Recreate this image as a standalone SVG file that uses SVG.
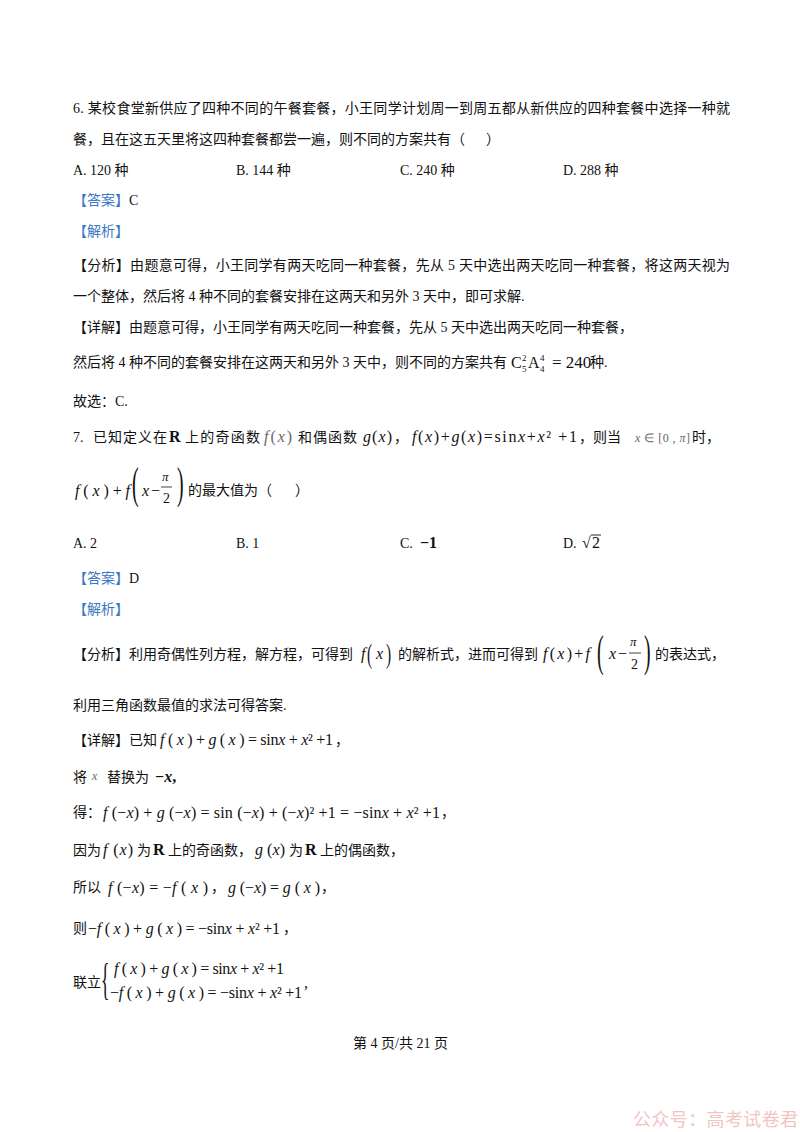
<svg xmlns="http://www.w3.org/2000/svg" width="800" height="1132" viewBox="0 0 800 1132">
<style>
text{font-family:"Liberation Serif","Noto Sans CJK SC",serif;font-size:14px;fill:#111}
.m{font-family:"Liberation Serif",serif;font-size:16px}
.i{font-style:italic}
.bl{fill:#3a78c2}
.gr{fill:#666}
.bd{font-weight:bold}
.bp{font-family:"Liberation Serif",serif;font-size:44px}
.wm{font-family:"Noto Sans CJK SC",sans-serif;font-size:18px;fill:#f2c4c4}
</style>
<rect width="800" height="1132" fill="#fff"/>

<g id="q6">
<text x="73" y="113" textLength="657" lengthAdjust="spacing">6. 某校食堂新供应了四种不同的午餐套餐，小王同学计划周一到周五都从新供应的四种套餐中选择一种就</text>
<text x="73" y="144">餐，且在这五天里将这四种套餐都尝一遍，则不同的方案共有（</text>
<text x="486" y="144">）</text>
<text x="73" y="175">A. 120 种</text>
<text x="236" y="175">B. 144 种</text>
<text x="400" y="175">C. 240 种</text>
<text x="563" y="175">D. 288 种</text>
<text x="73" y="205"><tspan class="bl">【答案】</tspan>C</text>
<text x="73" y="236" class="bl">【解析】</text>
<text x="73" y="270" textLength="657" lengthAdjust="spacing">【分析】由题意可得，小王同学有两天吃同一种套餐，先从 5 天中选出两天吃同一种套餐，将这两天视为</text>
<text x="73" y="301">一个整体，然后将 4 种不同的套餐安排在这两天和另外 3 天中，即可求解.</text>
<text x="73" y="332">【详解】由题意可得，小王同学有两天吃同一种套餐，先从 5 天中选出两天吃同一种套餐，</text>
<text x="73" y="367">然后将 4 种不同的套餐安排在这两天和另外 3 天中，则不同的方案共有</text>
<text class="m" x="511" y="368">C</text>
<text class="m" x="522" y="361" style="font-size:9px">2</text>
<text class="m" x="522" y="372" style="font-size:9px">5</text>
<text class="m" x="528" y="368">A</text>
<text class="m" x="540" y="361" style="font-size:9px">4</text>
<text class="m" x="540" y="372" style="font-size:9px">4</text>
<text class="m" x="552" y="368" style="font-size:17px">= 240</text>
<text x="590" y="367">种.</text>
<text x="73" y="406">故选：C.</text>
</g>

<g id="q7">
<text x="73" y="442">7.</text>
<text x="93" y="442" textLength="74" lengthAdjust="spacing">已知定义在</text>
<text class="m bd" x="169" y="442">R</text>
<text x="185" y="442" textLength="75" lengthAdjust="spacing">上的奇函数</text>
<text class="m gr" x="264" y="442" textLength="28" lengthAdjust="spacing"><tspan class="i">f</tspan>(<tspan class="i">x</tspan>)</text>
<text x="298" y="442" textLength="59" lengthAdjust="spacing">和偶函数</text>
<text class="m" x="363" y="442" textLength="29" lengthAdjust="spacing"><tspan class="i">g</tspan>(<tspan class="i">x</tspan>)</text>
<text x="394" y="442">，</text>
<text class="m" x="412" y="442" textLength="165" lengthAdjust="spacing"><tspan class="i">f</tspan>(<tspan class="i">x</tspan>)+<tspan class="i">g</tspan>(<tspan class="i">x</tspan>)=sin<tspan class="i">x</tspan>+<tspan class="i">x</tspan>² +1</text>
<text x="579" y="442">，则当</text>
<text class="m gr" x="635" y="442" style="font-size:12px" textLength="55" lengthAdjust="spacing"><tspan class="i">x</tspan> ∈ [0 , <tspan class="i">π</tspan>]</text>
<text x="692" y="442">时，</text>

<text class="m" x="75" y="496" textLength="55" lengthAdjust="spacing"><tspan class="i">f</tspan>(<tspan class="i">x</tspan>)+<tspan class="i">f</tspan></text>
<text class="bp" transform="translate(132,498) scale(0.45,1)">(</text>
<text class="m i" x="142" y="496">x</text>
<text class="m" x="151" y="496">−</text>
<text class="m i" x="162" y="481" style="font-size:13px">π</text>
<line x1="161" y1="487" x2="172" y2="487" stroke="#111" stroke-width="0.8"/>
<text class="m" x="163" y="503" style="font-size:14px">2</text>
<text class="bp" transform="translate(177,498) scale(0.45,1)">)</text>
<text x="188" y="495">的最大值为（</text>
<text x="295" y="495">）</text>

<text x="73" y="548">A. 2</text>
<text x="236" y="548">B. 1</text>
<text x="400" y="548">C.</text>
<text class="m" x="420" y="548" style="font-weight:bold">−1</text>
<text x="563" y="548">D.</text>
<text class="m" x="582" y="548">√</text>
<line x1="591" y1="535" x2="601" y2="535" stroke="#111" stroke-width="0.9"/>
<text class="m" x="592" y="548">2</text>

<text x="73" y="583"><tspan class="bl">【答案】</tspan>D</text>
<text x="73" y="614" class="bl">【解析】</text>

<text x="73" y="659">【分析】利用奇偶性列方程，解方程，可得到</text>
<text class="m i" x="361" y="659">f</text>
<text class="bp" transform="translate(367,663) scale(0.35,0.6)">(</text>
<text class="m i" x="376" y="659">x</text>
<text class="bp" transform="translate(386,663) scale(0.35,0.6)">)</text>
<text x="398" y="659">的解析式，进而可得到</text>
<text class="m" x="543" y="659" textLength="47" lengthAdjust="spacing"><tspan class="i">f</tspan>(<tspan class="i">x</tspan>)+<tspan class="i">f</tspan></text>
<text class="bp" transform="translate(597,666) scale(0.45,1)">(</text>
<text class="m i" x="609" y="659">x</text>
<text class="m" x="618" y="659">−</text>
<text class="m i" x="630" y="646" style="font-size:13px">π</text>
<line x1="629" y1="653" x2="641" y2="653" stroke="#111" stroke-width="0.8"/>
<text class="m" x="631" y="669" style="font-size:14px">2</text>
<text class="bp" transform="translate(644,666) scale(0.45,1)">)</text>
<text x="655" y="659">的表达式，</text>

<text x="73" y="710">利用三角函数最值的求法可得答案.</text>

<text x="73" y="745">【详解】已知</text>
<text class="m" x="160" y="745" textLength="173" lengthAdjust="spacing"><tspan class="i">f</tspan> ( <tspan class="i">x</tspan> ) + <tspan class="i">g</tspan> ( <tspan class="i">x</tspan> ) = sin<tspan class="i">x</tspan> + <tspan class="i">x</tspan>² +1</text>
<text x="335" y="745">，</text>

<text x="73" y="782">将</text>
<text class="m i gr" x="92" y="780" style="font-size:12px">x</text>
<text x="107" y="782">替换为</text>
<text class="m bd" x="155" y="782">−<tspan class="i">x</tspan>,</text>

<text x="73" y="817">得：</text>
<text class="m" x="103" y="818" textLength="337" lengthAdjust="spacing"><tspan class="i">f</tspan> (−<tspan class="i">x</tspan>) + <tspan class="i">g</tspan> (−<tspan class="i">x</tspan>) = sin (−<tspan class="i">x</tspan>) + (−<tspan class="i">x</tspan>)² +1 = −sin<tspan class="i">x</tspan> + <tspan class="i">x</tspan>² +1</text>
<text x="441" y="817">，</text>

<text x="73" y="855">因为</text>
<text class="m" x="103" y="855" textLength="30" lengthAdjust="spacing"><tspan class="i">f</tspan> (<tspan class="i">x</tspan>)</text>
<text x="137" y="855">为</text>
<text class="m bd" x="153" y="855">R</text>
<text x="168" y="855">上的奇函数，</text>
<text class="m" x="255" y="855" textLength="30" lengthAdjust="spacing"><tspan class="i">g</tspan> (<tspan class="i">x</tspan>)</text>
<text x="289" y="855">为</text>
<text class="m bd" x="305" y="855">R</text>
<text x="320" y="855">上的偶函数，</text>

<text x="73" y="892">所以</text>
<text class="m" x="108" y="893" textLength="100" lengthAdjust="spacing"><tspan class="i">f</tspan> (−<tspan class="i">x</tspan>) = −<tspan class="i">f</tspan> ( <tspan class="i">x</tspan> )</text>
<text x="211" y="892">，</text>
<text class="m" x="228" y="893" textLength="92" lengthAdjust="spacing"><tspan class="i">g</tspan> (−<tspan class="i">x</tspan>) = <tspan class="i">g</tspan> ( <tspan class="i">x</tspan> )</text>
<text x="321" y="892">，</text>

<text x="73" y="933">则</text>
<text class="m" x="88" y="934" textLength="192" lengthAdjust="spacing">−<tspan class="i">f</tspan> ( <tspan class="i">x</tspan> ) + <tspan class="i">g</tspan> ( <tspan class="i">x</tspan> ) = −sin<tspan class="i">x</tspan> + <tspan class="i">x</tspan>² +1</text>
<text x="283" y="933">，</text>

<text x="73" y="987">联立</text>
<text class="bp" transform="translate(101,994) scale(0.4,1)">{</text>
<text class="m" x="114" y="974" textLength="170" lengthAdjust="spacing"><tspan class="i">f</tspan> ( <tspan class="i">x</tspan> ) + <tspan class="i">g</tspan> ( <tspan class="i">x</tspan> ) = sin<tspan class="i">x</tspan> + <tspan class="i">x</tspan>² +1</text>
<text class="m" x="110" y="998" textLength="192" lengthAdjust="spacing">−<tspan class="i">f</tspan> ( <tspan class="i">x</tspan> ) + <tspan class="i">g</tspan> ( <tspan class="i">x</tspan> ) = −sin<tspan class="i">x</tspan> + <tspan class="i">x</tspan>² +1</text>
<text class="m" x="304" y="988">,</text>
</g>

<g id="footer">
<text x="353" y="1048">第 4 页/共 21 页</text>
<text class="wm" x="633" y="1126" textLength="165" lengthAdjust="spacing">公众号：高考试卷君</text>
</g>
</svg>
